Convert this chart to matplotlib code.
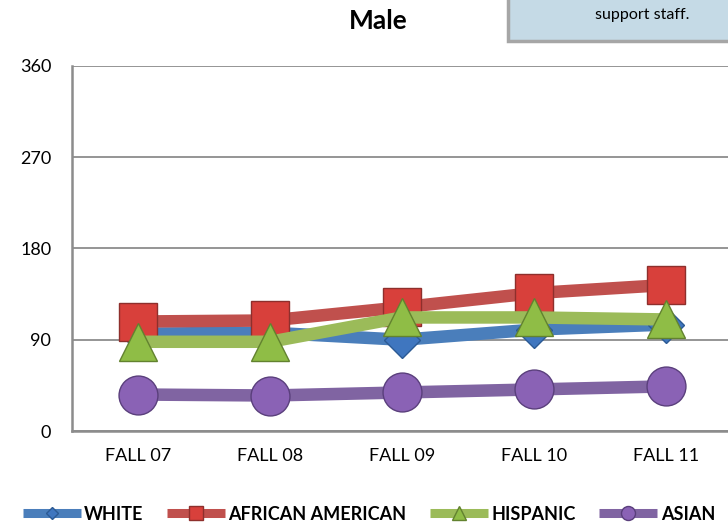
import matplotlib.pyplot as plt
from matplotlib.patches import Rectangle

plt.rcParams['font.family'] = ['Lato', 'DejaVu Sans']

# Data
terms = ["FALL 07", "FALL 08", "FALL 09", "FALL 10", "FALL 11"]
white = [96, 97, 90, 100, 105]
african_american = [108, 109, 122, 136, 144]
hispanic = [88, 88, 112, 112, 110]
asian = [36, 35, 38, 41, 44]
y_ticks = [0, 90, 180, 270, 360]

# Series styles: name, values, line colour, marker, marker face, marker edge, marker size
series = [
    ("WHITE", white, "#4a7ebb", "D", "#3f76bf", "#2c5a94", 18),
    ("AFRICAN AMERICAN", african_american, "#c0504d", "s", "#d8403b", "#8e2f2c", 27),
    ("HISPANIC", hispanic, "#9bbb59", "^", "#8fbd46", "#62822f", 28),
    ("ASIAN", asian, "#8064a2", "o", "#8a62b5", "#5a3f7c", 28),
]

fig = plt.figure(figsize=(7.28, 5.24), dpi=100)
ax = fig.add_axes([72 / 728, 93 / 524, 660 / 728, 365 / 524])

x = list(range(len(terms)))
for name, vals, col, mk, face, edge, ms in series:
    ax.plot(x, vals, color=col, lw=9, marker=mk, markersize=ms,
            markerfacecolor=face, markeredgecolor=edge, markeredgewidth=1,
            label=name, solid_capstyle="butt")

ax.set_xlim(-0.5, len(terms) - 0.5)
ax.set_ylim(0, 360)
ax.set_yticks(y_ticks)
ax.set_xticks(x)
ax.set_xticklabels(terms)
ax.tick_params(length=0, labelsize=13, pad=12)
ax.tick_params(axis="y", pad=15)
ax.grid(axis="y", color="#8c8c8c", lw=1.3)
ax.set_axisbelow(True)
for s in ["top", "right"]:
    ax.spines[s].set_visible(False)
for s in ["left", "bottom"]:
    ax.spines[s].set_color("#8c8c8c")
    ax.spines[s].set_linewidth(1.8)

fig.text(378 / 728, 1 - 21 / 524, "Male", ha="center", va="center",
         fontsize=19, fontweight="bold")

# partial text box at the top right
fig.patches.append(Rectangle((508 / 728, 1 - 41 / 524), 0.35, 0.1,
                             transform=fig.transFigure, facecolor="#c5dae6",
                             edgecolor="#a6a6a6", lw=2.5))
fig.text(642 / 728, 1 - 15 / 524, "support staff.", ha="center", va="center",
         fontsize=11.5)

leg = fig.legend(loc="center", bbox_to_anchor=(369 / 728, 1 - 514 / 524), ncol=4,
                 frameon=False, handlelength=3.2,
                 handletextpad=0.2, columnspacing=1.3,
                 prop={"weight": "bold", "size": 13})
for line, s in zip(leg.legend_handles, series):
    line.set_linewidth(6.5)
    line.set_markersize(s[6] * 0.36)

fig.savefig("out.png", dpi=100)
